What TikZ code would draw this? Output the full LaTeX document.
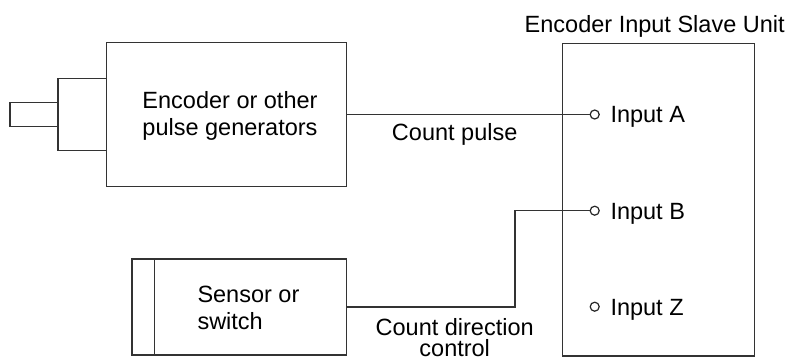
\documentclass[tikz,border=0pt]{standalone}
\usepackage{fontspec}
\setmainfont{Liberation Sans}
\begin{document}
\begin{tikzpicture}[x=1pt,y=-1pt,
  wire/.style={line width=1.5pt,draw=black!80},
  box/.style={wire,rectangle,inner sep=0pt,outer sep=0pt},
  lbl/.style={inner sep=0pt,outer sep=0pt,font=\fontsize{23.5}{27.5}\selectfont},
  term/.style={circle,draw=black!85,line width=1.2pt,minimum size=9pt,inner sep=0pt,outer sep=0pt}]
\useasboundingbox (0,0) rectangle (791,360);
% encoder
\node[box,minimum width=240pt,minimum height=144pt] (enc) at (226.5,114.5) {};
\node[box,anchor=east,minimum width=48.5pt,minimum height=72pt] (flange) at (enc.west) {};
\node[box,anchor=east,minimum width=48pt,minimum height=24pt] (shaft) at (flange.west) {};
\node[lbl,align=center] (enctext) at (230,116) {Encoder or other\\pulse generators};
% sensor
\node[box,minimum width=214.5pt,minimum height=96pt] (sen) at (239.25,307) {};
\draw[wire] (154.7,259) -- (154.7,355);
\node[lbl,align=left,anchor=west] (sentext) at (197.5,308) {Sensor or\\switch};
% slave unit
\node[box,minimum width=191.6pt,minimum height=312.3pt] (unit) at (658.5,199.85) {};
\node[lbl,anchor=base] (title) at (654.7,32.3) {Encoder Input Slave Unit};
\node[term] (inA) at (594.7,114.5) {};
\node[term] (inB) at (594.7,210.7) {};
\node[term] (inZ) at (594.7,306.7) {};
\node[lbl,anchor=base west] (labA) at (610.5,122.7) {Input A};
\node[lbl,anchor=base west] (labB) at (610.5,219) {Input B};
\node[lbl,anchor=base west] (labZ) at (610.5,315) {Input Z};
% connectors
\coordinate (jog) at (515,210.7);
\draw[wire] (enc.east) -- (inA.west);
\draw[wire] (sen.east) -| (jog) -- (inB.west);
\node[lbl,anchor=base] (cp) at (454.7,140.7) {Count pulse};
\node[lbl,align=center,anchor=south,font=\fontsize{23.5}{21}\selectfont] (cd) at (454.7,356.4) {Count direction\\control};
\end{tikzpicture}
\end{document}
